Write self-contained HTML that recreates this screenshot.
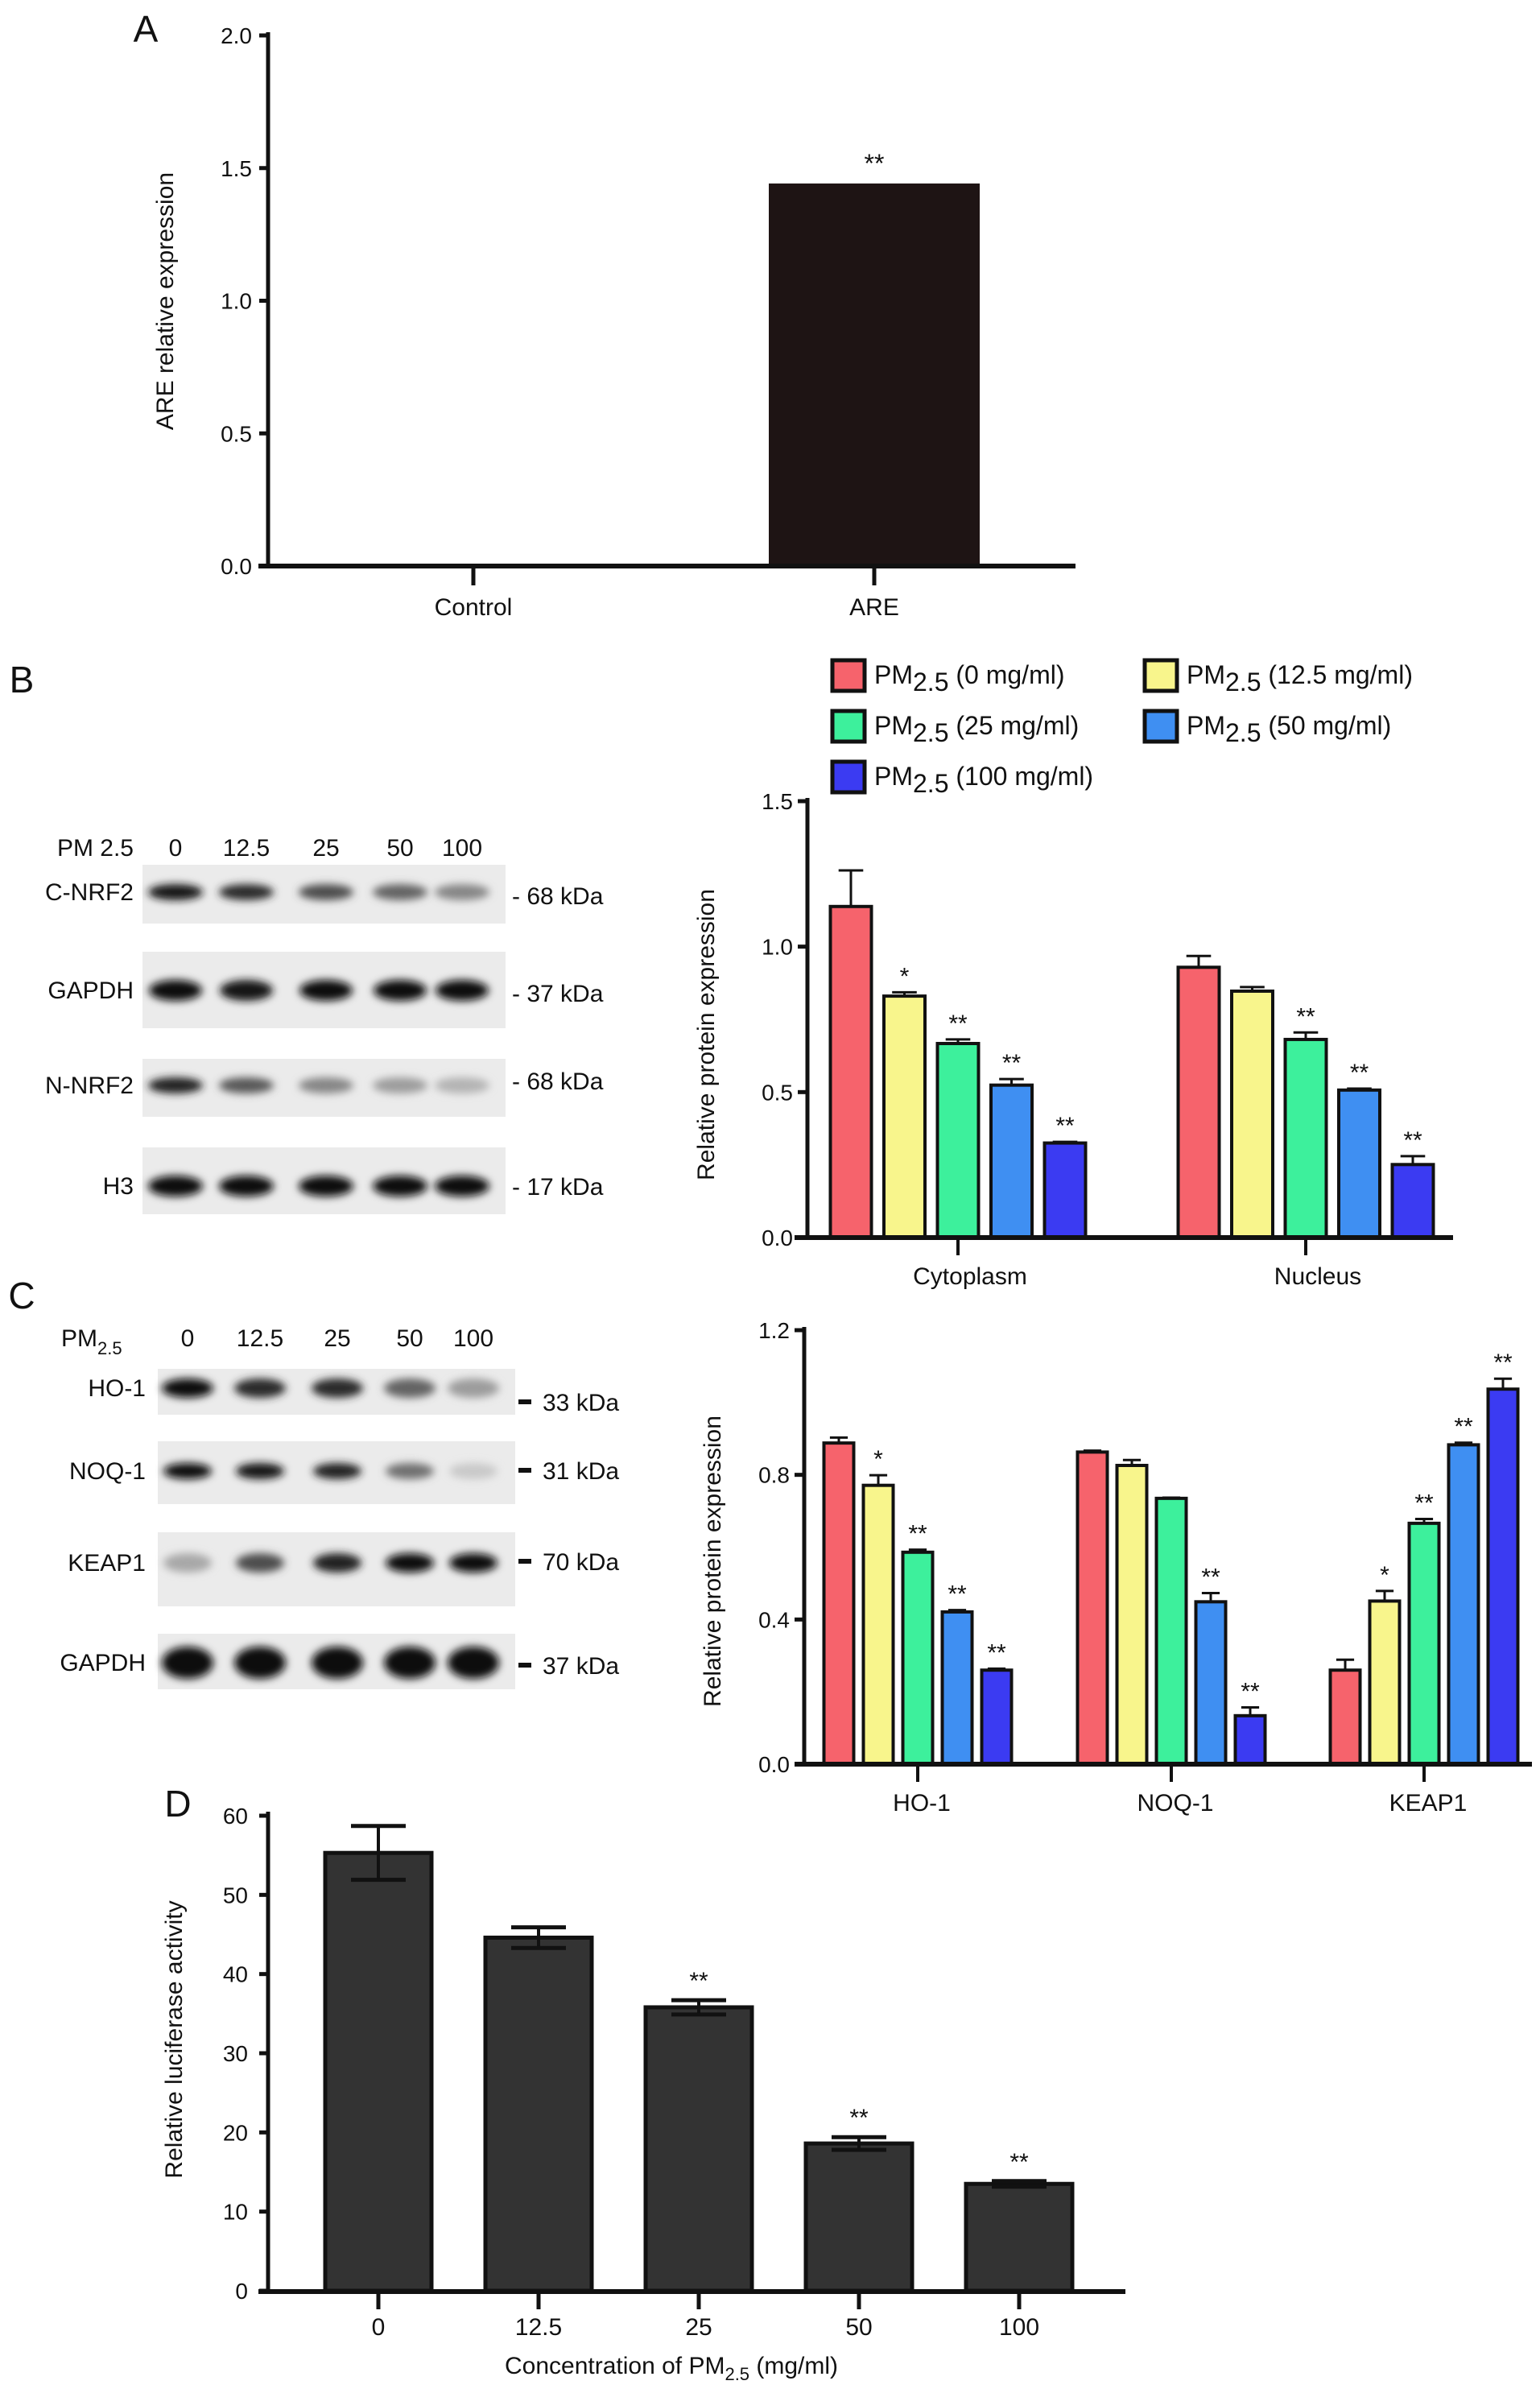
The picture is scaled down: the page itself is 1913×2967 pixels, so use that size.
<!DOCTYPE html>
<html><head><meta charset="utf-8"><style>
html,body{margin:0;padding:0;background:#fff}
svg{display:block}
text{font-family:"Liberation Sans Narrow","Liberation Sans",sans-serif;fill:#111}
.w{font-family:"Liberation Sans",sans-serif}
</style></head><body>
<svg id="fig" width="1913" height="2967" viewBox="0 0 1913 2967" xmlns="http://www.w3.org/2000/svg">
<defs><filter id="blur" x="-30%" y="-80%" width="160%" height="260%"><feGaussianBlur stdDeviation="5"/></filter></defs>
</svg>
<script>
// Panel A data
const aCats=["Control","ARE"];
const aVals=[0,1.442];
const aTicks=["0.0","0.5","1.0","1.5","2.0"];
// Panel B data
const bCats=["Cytoplasm","Nucleus"];
const bSeries=["PM2.5 (0 mg/ml)","PM2.5 (12.5 mg/ml)","PM2.5 (25 mg/ml)","PM2.5 (50 mg/ml)","PM2.5 (100 mg/ml)"];
const bVals=[[1.138,0.830,0.667,0.524,0.325],[0.929,0.847,0.681,0.507,0.251]];
const bErr=[[0.124,0.013,0.014,0.021,0.004],[0.039,0.014,0.024,0.005,0.029]];
const bStars=[["","*","**","**","**"],["","","**","**","**"]];
const bTicks=["0.0","0.5","1.0","1.5"];
// Panel C data
const cCats=["HO-1","NOQ-1","KEAP1"];
const cVals=[[0.888,0.771,0.586,0.421,0.260],[0.863,0.826,0.735,0.449,0.134],[0.260,0.451,0.666,0.883,1.037]];
const cErr=[[0.015,0.028,0.007,0.005,0.004],[0.004,0.015,0.002,0.024,0.023],[0.029,0.028,0.012,0.006,0.029]];
const cStars=[["","*","**","**","**"],["","","","**","**"],["","*","**","**","**"]];
const cTicks=["0.0","0.4","0.8","1.2"];
// Panel D data
const dCats=["0","12.5","25","50","100"];
const dVals=[55.3,44.6,35.8,18.6,13.5];
const dErr=[3.4,1.3,0.9,0.8,0.35];
const dStars=["","","**","**","**"];
const dTicks=["0","10","20","30","40","50","60"];
// Blots
const bBlotRows=["C-NRF2","GAPDH","N-NRF2","H3"];
const bBlotKda=["- 68 kDa","- 37 kDa","- 68 kDa","- 17 kDa"];
const bBlotInt=[[0.95,0.85,0.7,0.6,0.45],[1,0.95,1,1,1],[0.9,0.65,0.45,0.35,0.25],[1,1,1,1,1]];
const cBlotRows=["HO-1","NOQ-1","KEAP1","GAPDH"];
const cBlotKda=["33 kDa","31 kDa","70 kDa","37 kDa"];
const cBlotInt=[[1,0.85,0.85,0.6,0.35],[1,0.95,0.9,0.55,0.15],[0.3,0.7,0.9,1,1],[1,1,1,1,1]];
const lanes=["0","12.5","25","50","100"];
const colors=["#f6636c","#f8f58c","#3df09c","#3f8ff2","#3b3bf2"];

const svg=document.getElementById('fig');
const NS="http://www.w3.org/2000/svg";
function el(tag,attrs,txt){const e=document.createElementNS(NS,tag);for(const k in attrs)e.setAttribute(k,attrs[k]);if(txt!==undefined)e.textContent=txt;svg.appendChild(e);return e;}
function line(x1,y1,x2,y2,w){return el('line',{x1,y1,x2,y2,stroke:'#111','stroke-width':w||5});}
function txt(x,y,s,size,anchor,cls){return el('text',{x,y,'font-size':size,'text-anchor':anchor||'middle','class':cls||''},s);}
function sc(v0,v1,p0,p1){return v=>p0+(v-v0)*(p1-p0)/(v1-v0);}

// ---------- Panel A ----------
{
 const y=sc(0,2,703,44);
 let t=txt(181,52,"A",46);
 let ax=line(333,40,333,706,5);
 aTicks.forEach(s=>{const v=parseFloat(s);const tk=line(322,y(v),333,y(v),5);
  const l=txt(313,y(v)+10,s,28,'end');});
 const xs=[588,1086];
 aVals.forEach((v,i)=>{
  if(v>0){const r=el('rect',{x:xs[i]-131,y:y(v),width:262,height:703-y(v),fill:'#1e1414'});
   const st=txt(xs[i],y(v)-14,"**",32);}
  const tk=line(xs[i],705,xs[i],727,5);
  const l=txt(xs[i],764,aCats[i],30);
 });
 let xa=line(321,703,1336,703,6);
 let yt=txt(0,0,"ARE relative expression",30,'middle','w');yt.setAttribute('transform','translate(215,374) rotate(-90)');
}

// ---------- Blots ----------
function blot(prefix,rows,kda,ints,strips,bandYs,laneXs,x0,x1,labelRight,kdaX,kdaYs,dash,thick){
 rows.forEach((r,i)=>{
  const s=strips[i];
  const bg=el('rect',{x:x0,y:s[0],width:x1-x0,height:s[1]-s[0],fill:'#ebebeb'});
  ints[i].forEach((v,j)=>{
   const g=Math.round(235-225*v);
   const b=el('ellipse',{cx:laneXs[j],cy:bandYs[i],rx:thick[i][0],ry:thick[i][1],fill:`rgb(${g},${g},${g})`,filter:'url(#blur)'});
   
  });
  const l=txt(labelRight,bandYs[i]+10,r,30,'end');
  if(dash){const d=el('rect',{x:kdaX-30,y:kdaYs[i]-3,width:16,height:6,fill:'#111'});}
  const k=txt(kdaX,kdaYs[i]+11,kda[i],30,'start');
 });
}
{
 let t=txt(27,860,"B",46);
 const lx=[218,306,405,497,574];
 let pm=txt(166,1063,"PM 2.5",30,'end');
 lanes.forEach((s,j)=>{const l=txt(lx[j],1063,s,30);});
 blot('b',bBlotRows,bBlotKda,bBlotInt,[[1074,1147],[1182,1277],[1315,1387],[1425,1508]],[1108,1230,1348,1473],lx,177,628,166,636,[1112,1233,1342,1473],false,[[34,10],[33,13],[34,10],[34,13]]);
}
{
 let t=txt(27,1625,"C",46);
 const lx=[233,323,419,509,588];
 let pm=el('text',{x:76,y:1672,'font-size':30,});
 pm.innerHTML='PM<tspan font-size="22" dy="10">2.5</tspan>';
 lanes.forEach((s,j)=>{const l=txt(lx[j],1672,s,30);});
 blot('c',cBlotRows,cBlotKda,cBlotInt,[[1700,1757],[1790,1868],[1903,1995],[2029,2098]],[1724,1827,1941,2065],lx,196,640,181,674,[1741,1826,1939,2068],true,[[32,12],[30,10],[30,12],[32,20]]);
}

// ---------- Grouped bar chart helper ----------
function grouped(prefix,cats,vals,errs,stars,ticks,cfg){
 const y=sc(0,cfg.vmax,cfg.y0,cfg.ytop);
 const ax=line(cfg.ax,cfg.ytop-4,cfg.ax,cfg.y0+3,5);
 ticks.forEach(s=>{const v=parseFloat(s);const tk=line(cfg.ax-12,y(v),cfg.ax,y(v),5);
  const l=txt(cfg.ax-18,y(v)+10,s,28,'end');});
 cats.forEach((c,gi)=>{
  const cx=cfg.centers[gi];
  vals[gi].forEach((v,si)=>{
   const bx=cx+(si-2)*cfg.step;
   const e=y(v+errs[gi][si]);
   const eb=line(bx,e,bx,y(v),3);
   const cap=line(bx-cfg.bw*0.3,e,bx+cfg.bw*0.3,e,3);
   const r=el('rect',{x:bx-cfg.bw/2,y:y(v),width:cfg.bw,height:cfg.y0-y(v),fill:colors[si],stroke:'#111','stroke-width':4});
   
   if(stars[gi][si]){const st=txt(bx,e-10,stars[gi][si],30);}
  });
  const tk=line(cx,cfg.y0,cx,cfg.y0+22,4);
  const l=txt(cx+cfg.lblOff,cfg.y0+58,c,30);
 });
 const xa=line(cfg.xa0,cfg.y0,cfg.xa1,cfg.y0,6);
 const yt=txt(0,0,"Relative protein expression",30,'middle','w');yt.setAttribute('transform',`translate(${cfg.tx},${cfg.ty}) rotate(-90)`);
}
grouped('b',bCats,bVals,bErr,bStars,bTicks,{vmax:1.5,y0:1537,ytop:995,ax:1003,centers:[1190,1622],step:66.5,bw:51,xa0:987,xa1:1805,tx:887,ty:1285,lblOff:15});
grouped('c',cCats,cVals,cErr,cStars,cTicks,{vmax:1.2,y0:2191,ytop:1652,ax:999,centers:[1140,1455,1769],step:49,bw:37,xa0:987,xa1:1903,tx:895,ty:1939,lblOff:5});

// Legend
bSeries.forEach((s,i)=>{
 const col=i===1?1:(i===3?1:0);
 const row=i<2?0:(i<4?1:2);
 const bx=col?1422:1034, by=[820,883,946][row];
 const r=el('rect',{x:bx,y:by,width:40,height:38,fill:colors[i],stroke:'#111','stroke-width':5});
 
 const t=el('text',{x:bx+52,y:by+29,'font-size':32});
 
 const m=s.match(/^PM2\.5 (.*)$/);
 t.innerHTML='PM<tspan font-size="32" dy="9">2.5</tspan><tspan dy="-9"> '+m[1]+'</tspan>';
});

// ---------- Panel D ----------
{
 const y=sc(0,60,2845,2255);
 let t=txt(221,2256,"D",46);
 const ax=line(333,2250,333,2848,5);
 dTicks.forEach(s=>{const v=parseFloat(s);const tk=line(322,y(v),333,y(v),5);
  const l=txt(308,y(v)+10,s,28,'end');});
 const x=i=>470+i*199;
 dVals.forEach((v,i)=>{
  const r=el('rect',{x:x(i)-66,y:y(v),width:132,height:2845-y(v),fill:'#333',stroke:'#111','stroke-width':5});
  
  const hi=y(v+dErr[i]),lo=y(v-dErr[i]);
  const eb=line(x(i),hi,x(i),lo,4);
  const c1=line(x(i)-34,hi,x(i)+34,hi,5);
  const c2=line(x(i)-34,lo,x(i)+34,lo,5);
  if(dStars[i]){const st=txt(x(i),hi-14,dStars[i],30);}
  const tk=line(x(i),2845,x(i),2868,5);
  const l=txt(x(i),2900,dCats[i],30);
 });
 const xa=line(321,2846,1398,2846,6);
 const xt=el('text',{x:834,y:2948,'font-size':30,'text-anchor':'middle'});
 
 xt.innerHTML='Concentration of PM<tspan font-size="22" dy="8">2.5</tspan><tspan dy="-8"> (mg/ml)</tspan>';
 const yt=txt(0,0,"Relative luciferase activity",30,'middle','w');yt.setAttribute('transform','translate(226,2533) rotate(-90)');
}
</script>
</body></html>
